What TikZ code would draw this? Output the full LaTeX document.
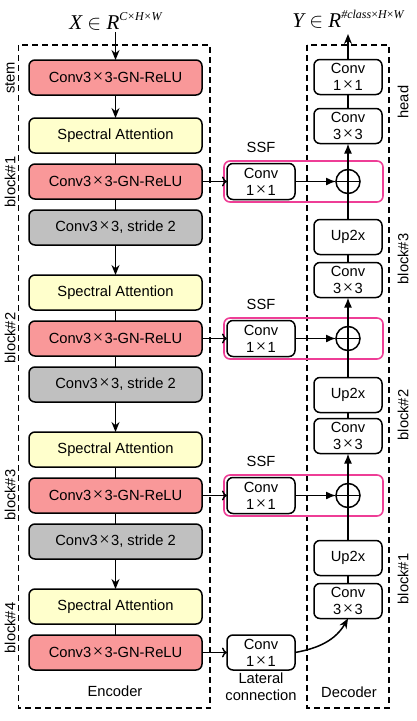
\documentclass[tikz,border=0pt]{standalone}
\usepackage{fontspec}
\setmainfont{Liberation Sans}
\newfontfamily\tnr{Liberation Serif}
\usetikzlibrary{arrows.meta, positioning}

\definecolor{convred}{RGB}{249,152,153}
\definecolor{attyellow}{RGB}{255,255,204}
\definecolor{stridegray}{RGB}{192,192,192}
\definecolor{ssfpink}{RGB}{238,62,150}
\newcommand{\mulsign}{\kern1.5pt{\tnr\scalebox{1.25}{×}}\kern1.5pt}

\begin{document}
\begin{tikzpicture}[x=1pt,y=1pt,>={Stealth[length=10pt,width=8pt]},line width=1.5pt,
  every node/.style={font=\fontsize{14.7}{17}\selectfont},
  enc node/.style={draw,rounded corners=6pt,minimum width=173pt,minimum height=35pt,inner sep=1pt,outer sep=0pt},
  dec node/.style={draw,rounded corners=6pt,minimum width=68pt,minimum height=35pt,inner sep=1pt,outer sep=0pt,align=center},
  add node/.style={draw,circle,minimum size=24pt,inner sep=0pt,outer sep=0pt,
    path picture={\draw (path picture bounding box.north) -- (path picture bounding box.south)
      (path picture bounding box.west) -- (path picture bounding box.east);}},
  group box/.style={line width=1.4pt,dash pattern=on 6pt off 4pt},
  ssf box/.style={draw=ssfpink,rounded corners=6pt,line width=1.6pt},
  side label/.style={rotate=90,inner sep=0pt},
  tap/.style={-{To[length=5pt,width=10pt]}},
  fuse/.style={-{Latex[length=10pt,width=8pt]}}]
  \useasboundingbox (0,0) rectangle (417,-721);

  % dashed groups
  \draw[group box] (18.5,-45) rectangle (210,-708);
  \draw[group box] (307,-45) rectangle (389,-708);

  % encoder
  \node[enc node, fill=convred] (stem) at (115.5,-77.5) {Conv3\mulsign 3-GN-ReLU};
  \node[enc node, fill=attyellow] (sa1) [below=23pt of stem] {Spectral Attention};
  \node[enc node, fill=convred] (conv1) [below=11pt of sa1] {Conv3\mulsign 3-GN-ReLU};
  \node[enc node, fill=stridegray] (gray1) [below=11pt of conv1] {Conv3\mulsign 3, stride 2};
  \node[enc node, fill=attyellow] (sa2) [below=30pt of gray1] {Spectral Attention};
  \node[enc node, fill=convred] (conv2) [below=11pt of sa2] {Conv3\mulsign 3-GN-ReLU};
  \node[enc node, fill=stridegray] (gray2) [below=11pt of conv2] {Conv3\mulsign 3, stride 2};
  \node[enc node, fill=attyellow] (sa3) [below=30pt of gray2] {Spectral Attention};
  \node[enc node, fill=convred] (conv3) [below=11pt of sa3] {Conv3\mulsign 3-GN-ReLU};
  \node[enc node, fill=stridegray] (gray3) [below=11pt of conv3] {Conv3\mulsign 3, stride 2};
  \node[enc node, fill=attyellow] (sa4) [below=30pt of gray3] {Spectral Attention};
  \node[enc node, fill=convred] (conv4) [below=11pt of sa4] {Conv3\mulsign 3-GN-ReLU};
  \node[inner sep=1pt] (xin) [above=28pt of stem]
    {\tnr\fontsize{21}{21}\selectfont\itshape X $\in$ R\raisebox{8.5pt}{\fontsize{12}{12}\selectfont C\kern.5pt{\upshape×}\kern.5pt H\kern.5pt{\upshape×}\kern.5pt W}};

  % SSF and lateral
  \node[dec node, minimum height=36pt] (ssf1) [right=25pt of conv1] {Conv\\1\mulsign 1};
  \node[add node] (plus1) [right=41pt of ssf1] {};
  \node[dec node, minimum height=36pt] (ssf2) [right=25pt of conv2] {Conv\\1\mulsign 1};
  \node[add node] (plus2) [right=41pt of ssf2] {};
  \node[dec node, minimum height=36pt] (ssf3) [right=25pt of conv3] {Conv\\1\mulsign 1};
  \node[add node] (plus3) [right=41pt of ssf3] {};
  \node[dec node] (lat) [right=25pt of conv4] {Conv\\1\mulsign 1};
  \node (ssf1 lbl) [above=8pt of ssf1, inner sep=2pt] {SSF};
  \node (ssf2 lbl) [above=8pt of ssf2, inner sep=2pt] {SSF};
  \node (ssf3 lbl) [above=8pt of ssf3, inner sep=2pt] {SSF};
  \draw[ssf box] ([shift={(-3pt,20.5pt)}]ssf1.west) rectangle ([shift={(23pt,-20.5pt)}]plus1.east);
  \draw[ssf box] ([shift={(-3pt,20.5pt)}]ssf2.west) rectangle ([shift={(23pt,-20.5pt)}]plus2.east);
  \draw[ssf box] ([shift={(-3pt,20.5pt)}]ssf3.west) rectangle ([shift={(23pt,-20.5pt)}]plus3.east);

  % decoder
  \node[dec node] (head3) [above=26pt of plus1] {Conv\\3\mulsign 3};
  \node[dec node] (head1) [above=14pt of head3] {Conv\\1\mulsign 1};
  \node[dec node] (up3) [below=26pt of plus1] {Up2x};
  \node[dec node] (dconv3) [below=8pt of up3] {Conv\\3\mulsign 3};
  \node[dec node] (up2) [below=27pt of plus2] {Up2x};
  \node[dec node] (dconv2) [below=6pt of up2] {Conv\\3\mulsign 3};
  \node[dec node] (up1) [below=33pt of plus3] {Up2x};
  \node[dec node] (dconv1) [below=8pt of up1] {Conv\\3\mulsign 3};
  \node[inner sep=1pt] (yout) [above=29.5pt of head1]
    {\tnr\fontsize{21}{21}\selectfont\itshape Y $\in$ R\raisebox{8.5pt}{\fontsize{12}{12}\selectfont \#class{\upshape×}H{\upshape×}W}};

  % side labels
  \node[side label] (stem lbl) at (10,-78) {stem};
  \node[side label] (enc1 lbl) at (10,-182) {block\#1};
  \node[side label] (enc2 lbl) at (10,-338) {block\#2};
  \node[side label] (enc3 lbl) at (10,-495) {block\#3};
  \node[side label] (enc4 lbl) at (10,-628) {block\#4};
  \node[side label] (head lbl) at (403,-102) {head};
  \node[side label] (dec3 lbl) at (403,-259) {block\#3};
  \node[side label] (dec2 lbl) at (403,-415) {block\#2};
  \node[side label] (dec1 lbl) at (403,-579) {block\#1};
  \node (enc lbl) at (115,-691) {Encoder};
  \node (dec lbl) at (349,-692) {Decoder};
  \node[align=center, inner sep=0pt] (lat lbl) [below=2pt of lat] {Lateral\\connection};

  % connections
  \path[->] (xin) edge (stem)
    (stem) edge (sa1)
    (gray1) edge (sa2)
    (gray2) edge (sa3)
    (gray3) edge (sa4);
  \path (sa1) edge (conv1) (conv1) edge (gray1)
    (sa2) edge (conv2) (conv2) edge (gray2)
    (sa3) edge (conv3) (conv3) edge (gray3)
    (sa4) edge (conv4);
  \path[tap] (conv1) edge (ssf1) (conv2) edge (ssf2)
    (conv3) edge (ssf3) (conv4) edge (lat);
  \path[fuse] (ssf1) edge (plus1) (ssf2) edge (plus2) (ssf3) edge (plus3)
    (plus1) edge (head3) (plus2) edge (dconv3) (plus3) edge (dconv2);
  \path (dconv1) edge (up1) (up1) edge (plus3)
    (dconv2) edge (up2) (up2) edge (plus2)
    (dconv3) edge (up3) (up3) edge (plus1)
    (head3) edge (head1);
  \draw[->, shorten >=4pt] (head1) -- (yout);
  \draw[->] (lat.east) to[out=10,in=-120] (dconv1.south);
\end{tikzpicture}
\end{document}
